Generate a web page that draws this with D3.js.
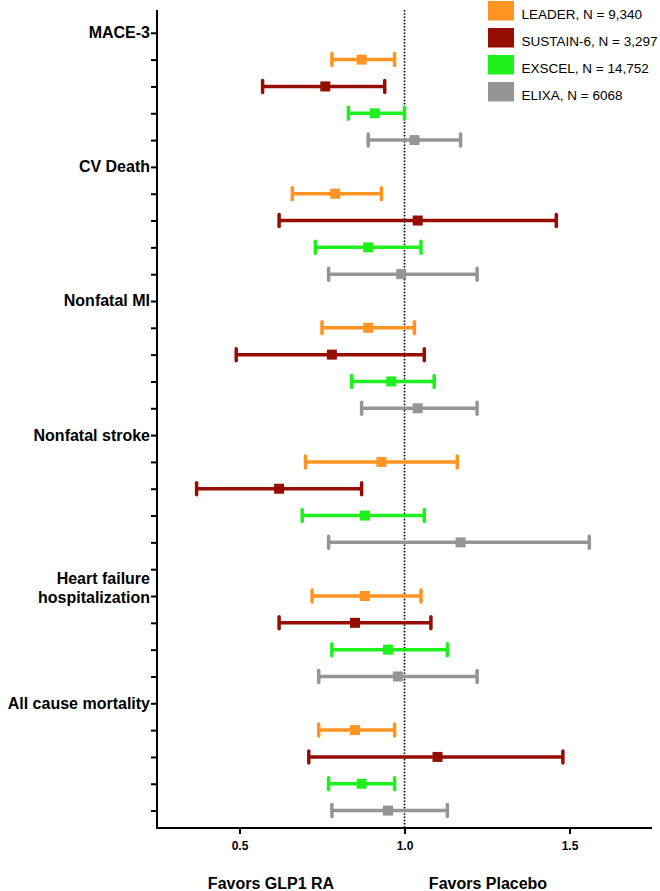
<!DOCTYPE html>
<html>
<head>
<meta charset="utf-8">
<script src="https://cdn.jsdelivr.net/npm/d3@7"></script>
<style>
  body { margin: 0; background: #fff; }
  svg { display: block; }
  text { font-family: "Liberation Sans", Arial, sans-serif; }
</style>
</head>
<body>
<svg id="chart" width="660" height="891"></svg>
<script>
// ---------- DATA ----------
const outcomes = ["MACE-3", "CV Death", "Nonfatal MI", "Nonfatal stroke", "Heart failure hospitalization", "All cause mortality"];
const trials = ["LEADER, N = 9,340", "SUSTAIN-6, N = 3,297", "EXSCEL, N = 14,752", "ELIXA, N = 6068"];
const trialColors = ["#FF9422", "#950D00", "#1EF01E", "#959595"];
// hazard ratio point estimates [outcome][trial]
const hr = [
  [0.87, 0.76, 0.91, 1.03],
  [0.79, 1.04, 0.89, 0.99],
  [0.89, 0.78, 0.96, 1.04],
  [0.93, 0.62, 0.88, 1.17],
  [0.88, 0.85, 0.95, 0.98],
  [0.85, 1.10, 0.87, 0.95]
];
const lower = [
  [0.78, 0.57, 0.83, 0.89],
  [0.66, 0.62, 0.73, 0.77],
  [0.75, 0.49, 0.84, 0.87],
  [0.70, 0.37, 0.69, 0.77],
  [0.72, 0.62, 0.78, 0.74],
  [0.74, 0.71, 0.77, 0.78]
];
const upper = [
  [0.97, 0.94, 1.00, 1.17],
  [0.93, 1.46, 1.05, 1.22],
  [1.03, 1.06, 1.09, 1.22],
  [1.16, 0.87, 1.06, 1.56],
  [1.05, 1.08, 1.13, 1.22],
  [0.97, 1.48, 0.97, 1.13]
];
const xTicks = [0.5, 1.0, 1.5];
const xLabels = ["Favors GLP1 RA", "Favors Placebo"];

// ---------- LAYOUT ----------
const svg = d3.select("#chart");
const mLeft = 157, mRight = 652, mTop = 10, mBottom = 828;
const rowsPer = trials.length + 1;
const nRows = outcomes.length * rowsPer;

const x = d3.scaleLinear().domain([0.25, 1.75]).range([mLeft, mRight]);
const y = d3.scaleLinear().domain([-0.85, nRows - 0.35]).range([mTop, mBottom]);

// rows
const rows = [];
outcomes.forEach((o, oi) => {
  trials.forEach((t, ti) => {
    rows.push({ o: oi, t: ti, idx: oi * rowsPer + ti + 1, hr: hr[oi][ti], lo: lower[oi][ti], hi: upper[oi][ti] });
  });
});

// reference line at 1.0
svg.append("line")
  .attr("x1", x(1)).attr("x2", x(1))
  .attr("y1", mTop).attr("y2", mBottom)
  .attr("stroke", "#000").attr("stroke-width", 1.6)
  .attr("stroke-dasharray", "1.6,1.6");

// y axis
const yAxis = d3.axisLeft(y)
  .tickValues(d3.range(nRows))
  .tickSize(6)
  .tickFormat(() => "");
const gy = svg.append("g").attr("transform", `translate(${mLeft},0)`).call(yAxis);
gy.select(".domain").remove();
gy.selectAll(".tick line").attr("stroke", "#000").attr("stroke-width", 2);
svg.append("line").attr("x1", mLeft).attr("x2", mLeft).attr("y1", mTop).attr("y2", mBottom + 1)
  .attr("stroke", "#000").attr("stroke-width", 2);

// category labels
outcomes.forEach((o, oi) => {
  const yy = y(oi * rowsPer);
  const words = o === "Heart failure hospitalization" ? ["Heart failure", "hospitalization"] : [o];
  const t = svg.append("text")
    .attr("text-anchor", "end")
    .attr("font-weight", "bold")
    .attr("font-size", 16)
    .attr("fill", "#000");
  if (words.length === 1) {
    t.attr("x", mLeft - 7).attr("y", yy + 5.5).text(o);
  } else {
    words.forEach((w, wi) => {
      t.append("tspan").attr("x", mLeft - 7).attr("y", yy + 14.5 + wi * 19).text(w);
    });
  }
});

// x axis
const xAxis = d3.axisBottom(x).tickValues(xTicks).tickSize(6).tickFormat(d3.format(".1f"));
const gx = svg.append("g").attr("transform", `translate(0,${mBottom})`).call(xAxis);
gx.select(".domain").remove();
gx.selectAll(".tick line").attr("stroke", "#000").attr("stroke-width", 2);
gx.selectAll(".tick text").attr("font-size", 12).attr("font-weight", "bold")
  .attr("font-family", "Liberation Sans, Arial, sans-serif").attr("fill", "#000").attr("dy", "1.1em");
svg.append("line").attr("x1", mLeft - 1).attr("x2", mRight).attr("y1", mBottom).attr("y2", mBottom)
  .attr("stroke", "#000").attr("stroke-width", 2);

// error bars
const g = svg.append("g");
const cap = 6;
rows.forEach(r => {
  const c = trialColors[r.t];
  const yy = y(r.idx);
  g.append("line").attr("x1", x(r.lo)).attr("x2", x(r.hi)).attr("y1", yy).attr("y2", yy)
    .attr("stroke", c).attr("stroke-width", 3.5);
  [r.lo, r.hi].forEach(v => {
    g.append("line").attr("x1", x(v)).attr("x2", x(v)).attr("y1", yy - cap).attr("y2", yy + cap)
      .attr("stroke", c).attr("stroke-width", 3.5).attr("stroke-linecap", "round");
  });
  g.append("rect").attr("x", x(r.hr) - 5).attr("y", yy - 5).attr("width", 10).attr("height", 10)
    .attr("fill", c);
});

// legend
const lg = svg.append("g").attr("transform", "translate(488,1)");
trials.forEach((t, i) => {
  lg.append("rect").attr("x", 0).attr("y", i * 27).attr("width", 26).attr("height", 19.5)
    .attr("fill", trialColors[i]);
  lg.append("text").attr("x", 33.5).attr("y", i * 27 + 17.5)
    .attr("font-size", 13.5).attr("fill", "#000").text(t);
});

// bottom labels
svg.append("text").attr("x", 271).attr("y", 889).attr("text-anchor", "middle")
  .attr("font-weight", "bold").attr("font-size", 16).text(xLabels[0]);
svg.append("text").attr("x", 488).attr("y", 889).attr("text-anchor", "middle")
  .attr("font-weight", "bold").attr("font-size", 16).text(xLabels[1]);
</script>
</body>
</html>
